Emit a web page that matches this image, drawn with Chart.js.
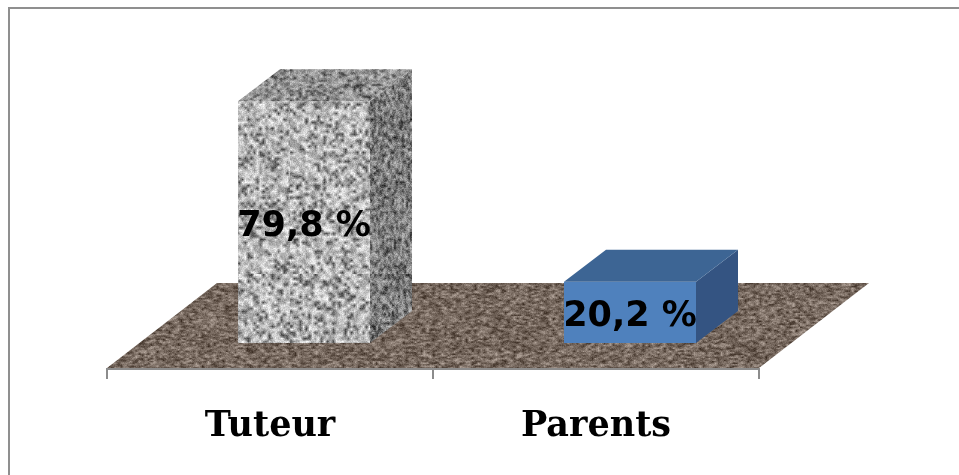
<!DOCTYPE html>
<html>
<head>
<meta charset="utf-8">
<script src="https://cdn.jsdelivr.net/npm/chart.js@4.4.1/dist/chart.umd.min.js"></script>
<style>
  html, body { margin: 0; padding: 0; background: #fff; }
  canvas { display: block; }
</style>
</head>
<body>
<canvas id="shareChart" width="959" height="475"></canvas>
<script>
const categories = ['Tuteur', 'Parents'];
const shares = [79.8, 20.2];
const scaleMax = 100;

// 3D look: floor depth and bar depth, in pixels
const FLOOR_DX = 110, FLOOR_DY = -85;
const BAR_SHIFT_X = 34, BAR_SHIFT_Y = -26;
const BAR_DX = 42, BAR_DY = -32;

function mulberry32(a) {
    return function () {
        a |= 0; a = a + 0x6D2B79F5 | 0;
        let t = Math.imul(a ^ a >>> 15, 1 | a);
        t = t + Math.imul(t ^ t >>> 7, 61 | t) ^ t;
        return ((t ^ t >>> 14) >>> 0) / 4294967296;
    };
}

// speckled texture: coarse blobs smoothed up, then some fine grain on top
function makeTexture(w, h, sx, sy, colorFn, fine, seed) {
    const rnd = mulberry32(seed);
    const small = document.createElement('canvas');
    small.width = Math.ceil(w / sx) + 1;
    small.height = Math.ceil(h / sy) + 1;
    const sctx = small.getContext('2d');
    const img = sctx.createImageData(small.width, small.height);
    for (let i = 0; i < img.data.length; i += 4) {
        const c = colorFn(rnd);
        img.data[i] = c[0]; img.data[i + 1] = c[1]; img.data[i + 2] = c[2]; img.data[i + 3] = 255;
    }
    sctx.putImageData(img, 0, 0);

    const big = document.createElement('canvas');
    big.width = w; big.height = h;
    const bctx = big.getContext('2d');
    bctx.imageSmoothingEnabled = true;
    bctx.drawImage(small, 0, 0, small.width * sx, small.height * sy);
    const bimg = bctx.getImageData(0, 0, w, h);
    for (let i = 0; i < bimg.data.length; i += 4) {
        const n = (rnd() - 0.5) * fine;
        bimg.data[i] += n; bimg.data[i + 1] += n; bimg.data[i + 2] += n;
    }
    bctx.putImageData(bimg, 0, 0);
    return big;
}

function grayFn(dark, mid, light) {
    return rnd => {
        const v = rnd();
        const g = v < 0.18 ? dark + rnd() * 40 : v < 0.55 ? mid + rnd() * 30 : light + rnd() * 45;
        return [g, g, g];
    };
}

const floorFn = rnd => {
    const v = rnd();
    const k = v < 0.25 ? 60 + rnd() * 30 : v < 0.75 ? 100 + rnd() * 25 : 135 + rnd() * 30;
    return [k + 6, k - 8, k - 18];
};

const tmpCtx = document.createElement('canvas').getContext('2d');
const graniteFront = tmpCtx.createPattern(makeTexture(256, 300, 3, 3, grayFn(70, 150, 195), 40, 11), 'repeat');
const graniteTop = tmpCtx.createPattern(makeTexture(256, 128, 3, 2, grayFn(60, 120, 155), 40, 23), 'repeat');
const graniteSide = tmpCtx.createPattern(makeTexture(128, 300, 2, 3, grayFn(40, 95, 135), 50, 37), 'repeat');
const floorPattern = tmpCtx.createPattern(makeTexture(800, 128, 3, 1.5, floorFn, 30, 5), 'repeat');

const barFront = [graniteFront, '#4f81bd'];
const barTop = [graniteTop, '#3d6594'];
const barSide = [graniteSide, '#345482'];

const fmtShare = v => v.toFixed(1).replace('.', ',') + ' %';

function poly(ctx, pts, fill) {
    ctx.beginPath();
    ctx.moveTo(pts[0][0], pts[0][1]);
    for (let i = 1; i < pts.length; i++) ctx.lineTo(pts[i][0], pts[i][1]);
    ctx.closePath();
    ctx.fillStyle = fill;
    ctx.fill();
}

const chart3d = {
    id: 'chart3d',
    beforeDraw(chart) {
        const ctx = chart.ctx;
        const x = chart.scales.x;
        const bottom = chart.chartArea.bottom;
        // outer frame
        ctx.save();
        ctx.strokeStyle = '#8f8f8f';
        ctx.lineWidth = 2;
        ctx.beginPath();
        ctx.moveTo(9, chart.height);
        ctx.lineTo(9, 8);
        ctx.lineTo(chart.width, 8);
        ctx.stroke();
        // floor
        poly(ctx, [
            [x.left, bottom - 1],
            [x.left + FLOOR_DX, bottom - 1 + FLOOR_DY],
            [x.right + FLOOR_DX, bottom - 1 + FLOOR_DY],
            [x.right, bottom - 1]
        ], floorPattern);
        ctx.restore();
    },
    beforeDatasetsDraw(chart) {
        chart.ctx.save();
        chart.ctx.translate(BAR_SHIFT_X, BAR_SHIFT_Y);
    },
    afterDatasetsDraw(chart) {
        const ctx = chart.ctx;
        const meta = chart.getDatasetMeta(0);
        meta.data.forEach((bar, i) => {
            const { x, y, base, width } = bar.getProps(['x', 'y', 'base', 'width'], true);
            const l = x - width / 2, r = x + width / 2;
            poly(ctx, [[r, y], [r + BAR_DX, y + BAR_DY], [r + BAR_DX, base + BAR_DY], [r, base]], barSide[i]);
            poly(ctx, [[l, y], [l + BAR_DX, y + BAR_DY], [r + BAR_DX, y + BAR_DY], [r, y]], barTop[i]);

            ctx.fillStyle = '#000';
            ctx.font = 'bold 35px "DejaVu Sans"';
            ctx.textAlign = 'center';
            ctx.textBaseline = 'alphabetic';
            ctx.fillText(fmtShare(shares[i]), x, (y + base) / 2 + 14);
        });
        ctx.restore();
    }
};

new Chart(document.getElementById('shareChart'), {
    type: 'bar',
    data: {
        labels: categories,
        datasets: [{
            data: shares,
            backgroundColor: barFront,
            borderWidth: 0,
            categoryPercentage: 1,
            barPercentage: 0.405
        }]
    },
    options: {
        responsive: false,
        animation: false,
        events: [],
        layout: { padding: { left: 107, right: 200, top: 66, bottom: 0 } },
        plugins: { legend: { display: false }, tooltip: { enabled: false } },
        scales: {
            y: { display: false, min: 0, max: scaleMax },
            x: {
                grid: { drawOnChartArea: false, color: '#8c8c8c', lineWidth: 2, tickLength: 10, offset: true },
                border: { color: '#8c8c8c', width: 2 },
                ticks: {
                    color: '#000',
                    padding: 27,
                    font: { family: 'DejaVu Serif', weight: 'bold', size: 35 }
                }
            }
        }
    },
    plugins: [chart3d]
});
</script>
</body>
</html>
